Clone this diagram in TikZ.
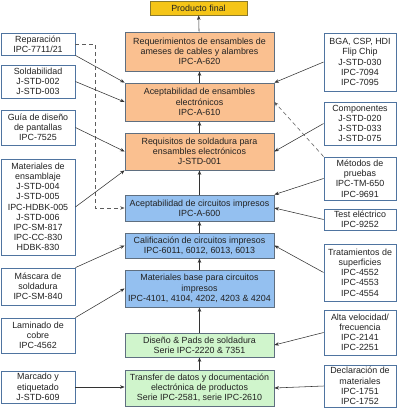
\documentclass[tikz,border=0pt]{standalone}
\usepackage{fontspec}
\setmainfont{Liberation Sans}
\usetikzlibrary{arrows.meta,calc}
\definecolor{gold}{HTML}{F5C518}
\definecolor{goldline}{HTML}{8B7A2B}
\definecolor{orng}{HTML}{FAC090}
\definecolor{blu}{HTML}{94C0F0}
\definecolor{grn}{HTML}{D0F5CC}
\definecolor{cline}{HTML}{5F6F80}
\definecolor{sline}{HTML}{4F74A0}
\definecolor{txt}{HTML}{222222}
\definecolor{arr}{HTML}{333333}
\tikzset{
  base/.style={draw, line width=0.8pt, align=center, inner sep=0pt, text=txt,
    font=\fontsize{8.9}{10.2}\selectfont},
  cbox/.style={base, draw=cline, minimum width=149pt},
  prodbox/.style={base, draw=goldline, fill=gold, minimum width=97pt, minimum height=14pt},
  orbox/.style={cbox, fill=orng},
  blbox/.style={cbox, fill=blu},
  grbox/.style={cbox, fill=grn},
  sbox/.style={base, draw=sline, fill=white},
  lbox/.style={sbox, minimum width=74pt},
  rbox/.style={sbox, minimum width=72pt},
  conn/.style={draw=arr, line width=0.55pt, -{Stealth[length=4.5pt,width=3.5pt]}},
  dconn/.style={conn, draw=arr!80, dash pattern=on 4pt off 3pt}
}
\begin{document}
\begin{tikzpicture}[x=1pt,y=-1pt]
\useasboundingbox (0,0) rectangle (400,408);
% center column
\node[prodbox] (prod) at (198.5,8) {Producto final};
\node[orbox, minimum height=39pt] (req) at (199.5,51.5) {Requerimientos de ensambles de\\ameses de cables y alambres\\IPC-A-620};
\node[orbox, minimum height=38pt] (acc) at (199.5,102) {Aceptabilidad de ensambles\\electrónicos\\IPC-A-610};
\node[orbox, minimum height=37pt] (jstd) at (199.5,151.5) {Requisitos de soldadura para\\ensambles electrónicos\\J-STD-001};
\node[blbox, minimum height=26pt] (a600) at (199.5,208) {Aceptabilidad de circuitos impresos\\IPC-A-600};
\node[blbox, minimum height=25pt] (cal) at (199.5,245.5) {Calificación de circuitos impresos\\IPC-6011, 6012, 6013, 6013};
\node[blbox, minimum height=37pt] (mat) at (199.5,288.5) {Materiales base para circuitos\\impresos\\IPC-4101, 4104, 4202, 4203 \& 4204};
\node[grbox, minimum height=24pt] (dis) at (199.5,345) {Diseño \& Pads de soldadura\\Serie IPC-2220 \& 7351};
\node[grbox, minimum height=36pt] (trf) at (199.5,388) {Transfer de datos y documentación\\electrónica de productos\\Serie IPC-2581, serie IPC-2610};
% left column
\node[lbox, minimum height=22pt] (rep) at (38,44) {Reparación\\IPC-7711/21};
\node[lbox, minimum height=33pt] (sold) at (38,81.5) {Soldabilidad\\J-STD-002\\J-STD-003};
\node[lbox, minimum height=35pt] (guia) at (38,127.5) {Guía de diseño\\de pantallas\\IPC-7525};
\node[lbox, minimum height=96pt] (ens) at (38,207) {Materiales de\\ensamblaje\\J-STD-004\\J-STD-005\\IPC-HDBK-005\\J-STD-006\\IPC-SM-817\\IPC-CC-830\\HDBK-830};
\node[lbox, minimum height=37pt] (masc) at (38,286.5) {Máscara de\\soldadura\\IPC-SM-840};
\node[lbox, minimum height=35pt] (lam) at (38,335.5) {Laminado de\\cobre\\IPC-4562};
\node[lbox, minimum height=32pt] (marc) at (38,387) {Marcado y\\etiquetado\\J-STD-609};
% right column
\node[rbox, minimum height=58pt] (bga) at (360,62) {BGA, CSP, HDI\\Flip Chip\\J-STD-030\\IPC-7094\\IPC-7095};
\node[rbox, minimum height=43pt] (comp) at (360,123.5) {Componentes\\J-STD-020\\J-STD-033\\J-STD-075};
\node[rbox, minimum height=43pt] (met) at (360,178.5) {Métodos de\\pruebas\\IPC-TM-650\\IPC-9691};
\node[rbox, minimum height=21pt] (test) at (360,219.5) {Test eléctrico\\IPC-9252};
\node[rbox, minimum height=57pt] (trat) at (360,272.5) {Tratamientos de\\superficies\\IPC-4552\\IPC-4553\\IPC-4554};
\node[rbox, minimum height=45pt] (alta) at (360,332.5) {Alta velocidad/\\frecuencia\\IPC-2141\\IPC-2251};
\node[rbox, minimum height=42pt] (decl) at (360,386) {Declaración de\\materiales\\IPC-1751\\IPC-1752};
% vertical chain
\draw[conn] (req) -- (prod);
\draw[conn] (acc) -- (req);
\draw[conn] (jstd) -- (acc);
\draw[conn] (a600) -- (jstd);
\draw[conn] (cal) -- (a600);
\draw[conn] (mat) -- (cal);
\draw[conn] (dis) -- (mat);
\draw[conn] (trf) -- (dis);
% left connectors
\draw[conn] (rep.south east) -- (acc.north west);
\draw[dconn] (rep.east) -- ++(20,0) |- (a600.west);
\draw[conn] (sold.east) -- (acc.west);
\draw[conn] (guia.east) -- (jstd.west);
\draw[conn] (ens.east) -- (jstd.south west);
\draw[conn] (masc.north east) -- (cal.west);
\draw[conn] (lam.north east) -- (mat.west);
\draw[conn] (marc.east) -- (marc.east -| trf.west);
% right connectors
\draw[conn] (bga.west) -- (acc.north east);
\draw[conn] (comp.west) -- (jstd.east);
\draw[dconn] (met.north west) -- (acc.east);
\draw[conn] (met.west) -- (a600.north east);
\draw[conn] (test.west) -- (a600.east);
\draw[conn] (trat.west) -- (cal.east);
\draw[conn] (alta.west) -- (dis.east);
\draw[conn] (decl.west) -- (trf.east);
\end{tikzpicture}
\end{document}
